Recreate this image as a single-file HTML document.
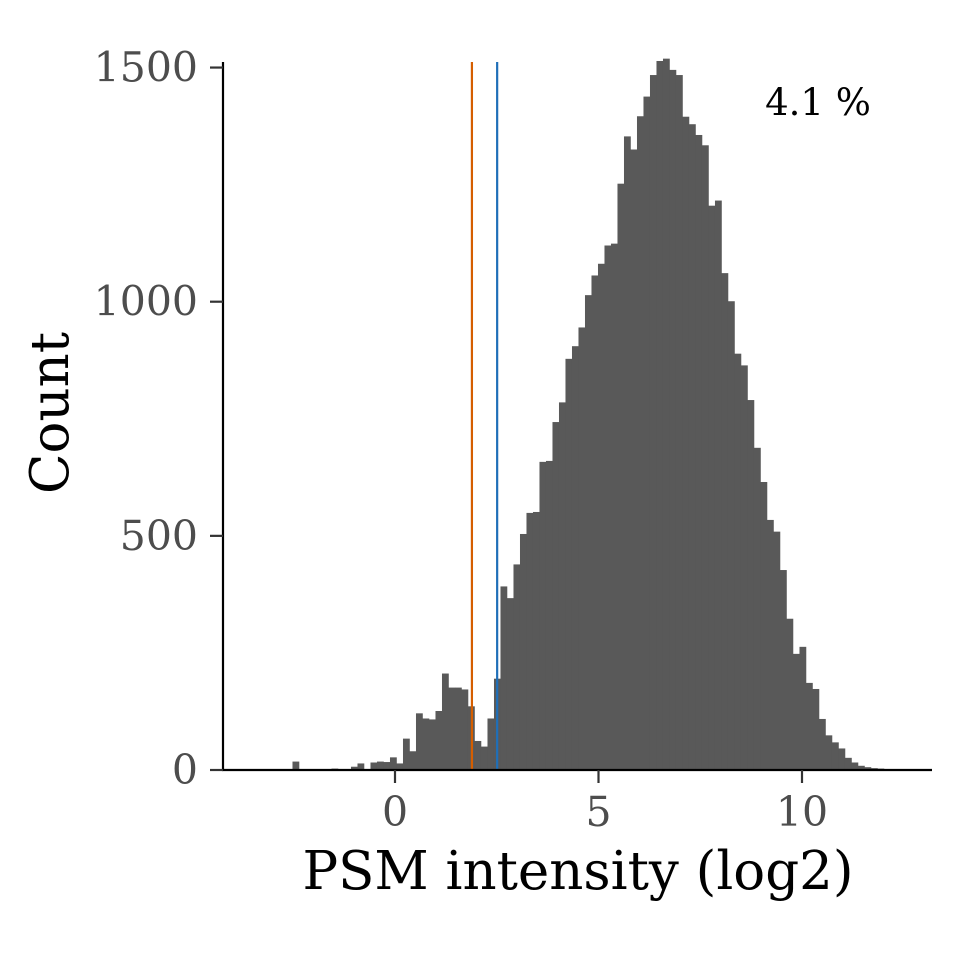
<!DOCTYPE html>
<html><head><meta charset="utf-8"><style>
html,body{margin:0;padding:0;background:#fff;}
svg{display:block;font-family:"DejaVu Serif","Liberation Serif",serif;}
</style></head><body>
<svg id="chart" width="960" height="960" viewBox="0 0 960 960">
<g id="bars"></g>
<g id="vlines"></g>
<g id="axes"></g>
<text x="818" y="115" font-size="37" text-anchor="middle" fill="#000">4.1 %</text>
<text x="578" y="889" font-size="53" text-anchor="middle" fill="#000">PSM intensity (log2)</text>
<text transform="translate(68,413) rotate(-90)" font-size="53" text-anchor="middle" fill="#000">Count</text>
</svg>
<script>
const binStart = 2.432 - 37*0.1597;
const binWidth = 0.1597;
const counts = [1,0,0,0,0,0,18,0,0,0,2,0,3,0,0,7,14,0,16,18,17,27,14,67,40,121,110,108,126,206,176,176,172,136,62,50,110,
195,392,367,439,504,549,551,658,660,743,785,878,905,945,1014,1056,1081,1120,1124,1252,1353,1325,1396,1438,1484,1514,1519,1495,1484,1395,1379,1356,1334,1205,1216,1061,1001,889,864,790,688,615,534,509,427,323,248,263,186,173,109,74,59,46,26,16,9,6,4,3,2];
const xTicks = [0,5,10];
const yTicks = [0,500,1000,1500];
const vLineValues = [1.89, 2.51];
const vLineColors = ["#D55E00","#1F6FB8"];

const NS="http://www.w3.org/2000/svg";
const xs = v => 395 + v*40.7;
const ys = c => 770 - c*0.4683;
function mk(tag, attrs, parent){const e=document.createElementNS(NS,tag);for(const k in attrs)e.setAttribute(k,attrs[k]);parent.appendChild(e);return e;}
const bars=document.getElementById('bars');
counts.forEach((c,i)=>{
  if(c<=0)return;
  const x0=xs(binStart+i*binWidth), x1=xs(binStart+(i+1)*binWidth);
  const r=mk('rect',{x:x0,y:ys(c),width:x1-x0+0.3,height:770-ys(c),fill:'#595959'},bars);
  
  
});
const vl=document.getElementById('vlines');
vLineValues.forEach((v,i)=>{
  const l=mk('line',{x1:xs(v),x2:xs(v),y1:62,y2:770,stroke:vLineColors[i],'stroke-width':2.2},vl);
  
  
});
const ax=document.getElementById('axes');
const ya=mk('line',{x1:223,x2:223,y1:62,y2:771,stroke:'#000','stroke-width':2.2},ax);


const xa=mk('line',{x1:222,x2:932,y1:770,y2:770,stroke:'#000','stroke-width':2.2},ax);


yTicks.forEach(t=>{
  const tk=mk('line',{x1:210,x2:223,y1:ys(t),y2:ys(t),stroke:'#333','stroke-width':2.2},ax);
  
  
  const tx=mk('text',{x:198,y:ys(t)+14,'font-size':41,'text-anchor':'end',fill:'#4d4d4d'},ax);
  tx.textContent=t;
  
  
});
xTicks.forEach(t=>{
  const tk=mk('line',{x1:xs(t),x2:xs(t),y1:770,y2:783,stroke:'#333','stroke-width':2.2},ax);
  
  
  const tx=mk('text',{x:xs(t),y:826,'font-size':41,'text-anchor':'middle',fill:'#4d4d4d'},ax);
  tx.textContent=t;
  
  
});
</script>
</body></html>
